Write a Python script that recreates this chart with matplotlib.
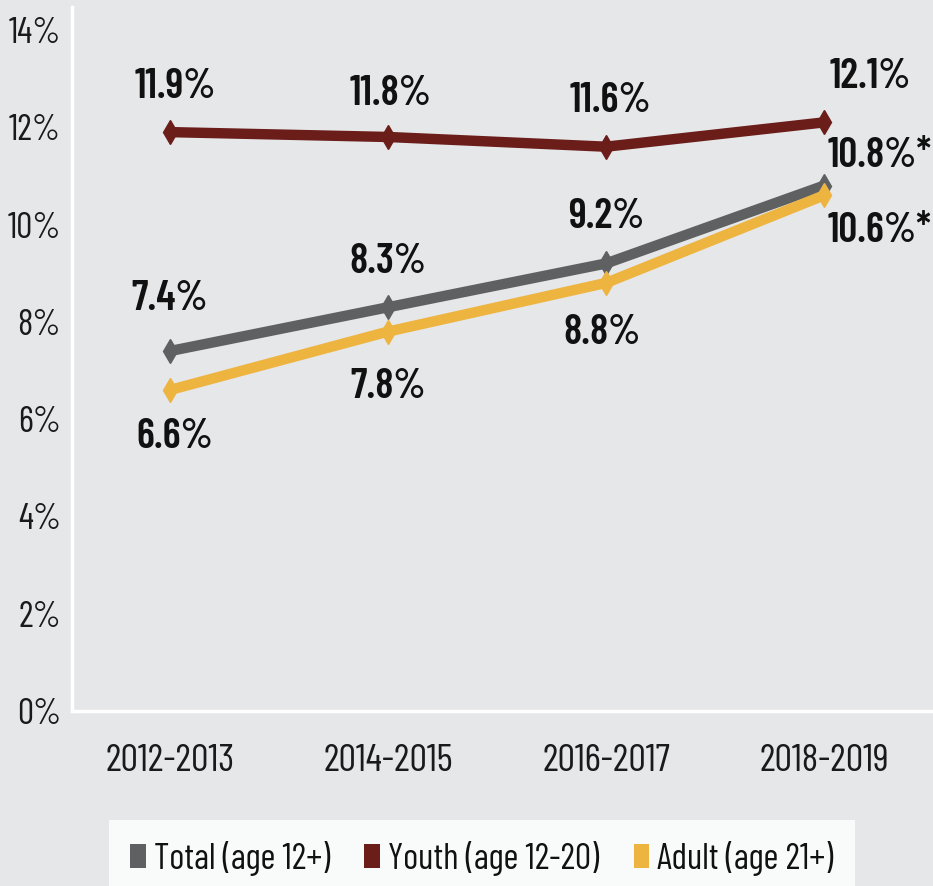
import matplotlib
matplotlib.use("Agg")
import matplotlib.pyplot as plt
from matplotlib.ticker import FuncFormatter
from matplotlib.patches import Patch

periods = ["2012-2013", "2014-2015", "2016-2017", "2018-2019"]
total = [7.4, 8.3, 9.2, 10.8]
youth = [11.9, 11.8, 11.6, 12.1]
adult = [6.6, 7.8, 8.8, 10.6]
total_labels = ["7.4%", "8.3%", "9.2%", "10.8%*"]
youth_labels = ["11.9%", "11.8%", "11.6%", "12.1%"]
adult_labels = ["6.6%", "7.8%", "8.8%", "10.6%*"]
legend_names = ["Total (age 12+)", "Youth (age 12-20)", "Adult (age 21+)"]
yticks = [0, 2, 4, 6, 8, 10, 12, 14]

BG = "#e6e7e9"
C_TOTAL = "#5f6062"
C_YOUTH = "#6b1d1a"
C_ADULT = "#eeb440"

plt.rcParams['font.family'] = ['Barlow Condensed', 'PT Sans Narrow', 'DejaVu Sans']

fig = plt.figure(figsize=(9.33, 8.86), dpi=100, facecolor=BG)
ax = fig.add_axes([0.0772, 0.1975, 0.9228, 0.7945])
ax.set_facecolor(BG)

x = list(range(len(periods)))
for vals, col in [(total, C_TOTAL), (adult, C_ADULT), (youth, C_YOUTH)]:
    ax.plot(x, vals, color=col, lw=7.5, marker='d', markersize=12.5,
            solid_capstyle='round', zorder=3)

ax.set_xlim(-0.45, 3.5)
ax.set_ylim(0, 14.47)
ax.set_yticks(yticks)
ax.yaxis.set_major_formatter(FuncFormatter(lambda v, p: f"{v:.0f}%"))
ax.set_xticks(x)
ax.set_xticklabels(periods)
ax.tick_params(axis='y', length=0, pad=8, labelsize=26, labelcolor="#1a1a1a")
ax.tick_params(axis='x', length=0, pad=24, labelsize=28, labelcolor="#1a1a1a")

for s in ['top', 'right']:
    ax.spines[s].set_visible(False)
for s in ['left', 'bottom']:
    ax.spines[s].set_color('white')
    ax.spines[s].set_linewidth(2.5)

def lab(xi, yi, txt, dx, dy):
    ax.annotate(txt, (xi, yi), xytext=(dx, dy), textcoords='offset pixels',
                ha='center', va='center', fontsize=30, fontweight='semibold',
                color='#111111', zorder=4)

total_off = [(0, 52), (0, 45), (0, 46), (56, 30)]
youth_off = [(5, 45), (2, 43), (4, 46), (46, 45)]
adult_off = [(5, -47), (0, -55), (-4, -50), (56, -36)]
for i in range(4):
    lab(x[i], total[i], total_labels[i], *total_off[i])
    lab(x[i], youth[i], youth_labels[i], *youth_off[i])
    lab(x[i], adult[i], adult_labels[i], *adult_off[i])

handles = [Patch(facecolor=c, edgecolor='none') for c in (C_TOTAL, C_YOUTH, C_ADULT)]
leg = fig.legend(handles, legend_names, loc='upper left',
                 bbox_to_anchor=(109/933, 1 - 820/886),
                 ncol=3, frameon=True, fancybox=False,
                 fontsize=26, handlelength=0.44, handleheight=0.64, handletextpad=0.22,
                 columnspacing=0.95, borderaxespad=0, borderpad=0.58)
leg.get_frame().set_facecolor('white')
leg.get_frame().set_edgecolor('white')
leg.get_frame().set_linewidth(0)
for t in leg.get_texts():
    t.set_color('#111111')

fig.savefig("out.png", dpi=100, facecolor=BG)
